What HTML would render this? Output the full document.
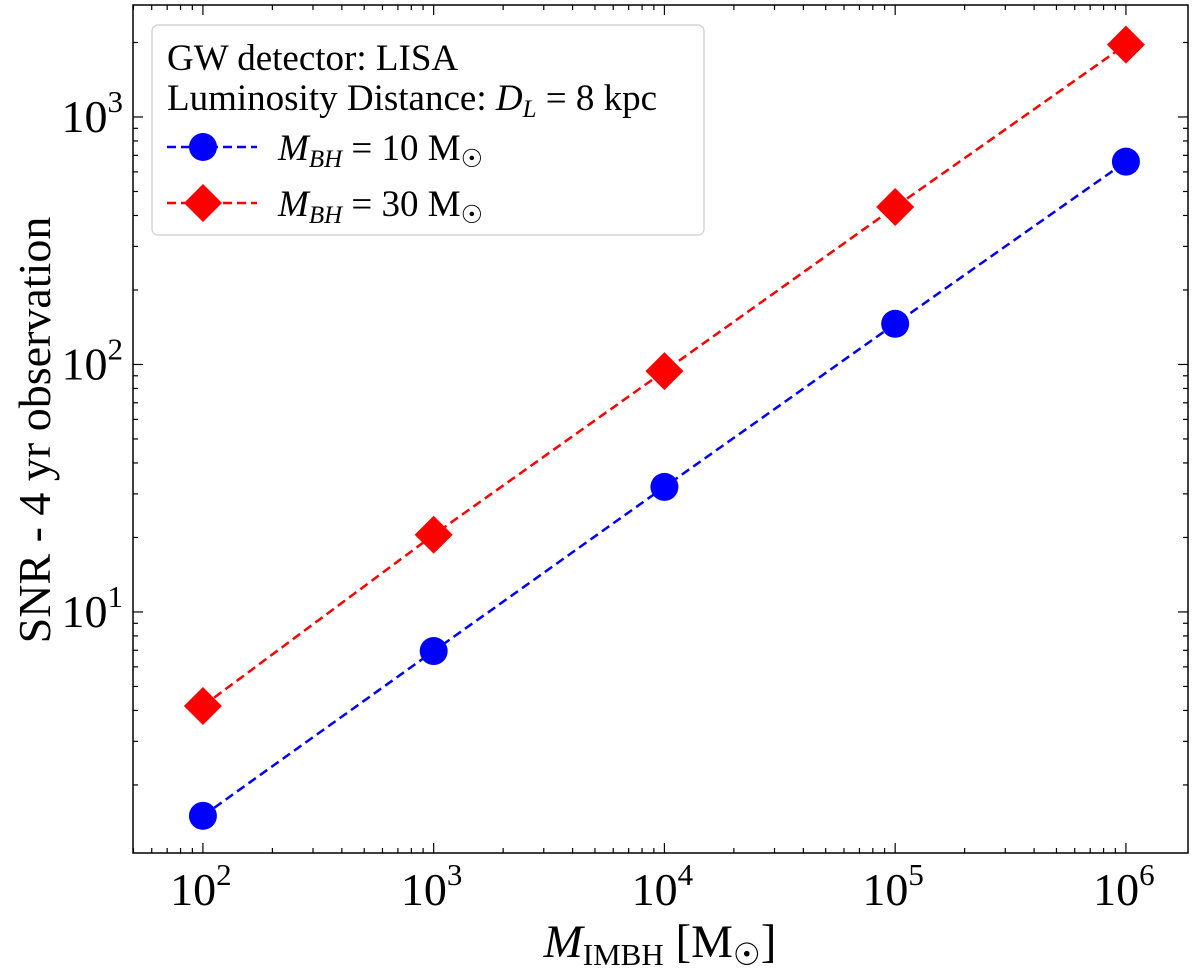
<!DOCTYPE html>
<html><head><meta charset="utf-8"><style>
html,body{margin:0;padding:0;background:#fff;}
svg{display:block;font-family:"Liberation Serif","DejaVu Serif",serif;}
</style></head><body>
<svg id="chart" width="1200" height="969"></svg>
<script>
const categories=[1e2,1e3,1e4,1e5,1e6];
const snrBH10=[1.5,6.95,32,146,660];
const snrBH30=[4.17,20.5,94,433,1960];
const xTickExps=[2,3,4,5,6];
const yTickExps=[1,2,3];
const L=133,R=1188,T=5,B=853;
const xMin=1.697,xMax=6.269,yMin=0.026,yMax=3.4525;
const NS="http://www.w3.org/2000/svg";
const svg=document.getElementById('chart');
function X(v){return L+(Math.log10(v)-xMin)/(xMax-xMin)*(R-L);}
function Y(v){return B-(Math.log10(v)-yMin)/(yMax-yMin)*(B-T);}
function el(tag,attrs,parent){const e=document.createElementNS(NS,tag);for(const k in attrs)e.setAttribute(k,attrs[k]);(parent||svg).appendChild(e);return e;}
const frame=el('rect',{x:L,y:T,width:R-L,height:B-T,fill:'none',stroke:'#000','stroke-width':1.5});


for(let e=1;e<=6;e++){for(let m=1;m<10;m++){const v=m*Math.pow(10,e);const x=X(v);if(x<L||x>R)continue;const len=m===1?10:5;
el('line',{x1:x,y1:B,x2:x,y2:B-len,stroke:'#000','stroke-width':1.2});el('line',{x1:x,y1:T,x2:x,y2:T+len,stroke:'#000','stroke-width':1.2});}}
for(let e=0;e<=4;e++){for(let m=1;m<10;m++){const v=m*Math.pow(10,e);const y=Y(v);if(y<T||y>B)continue;const len=m===1?10:5;
el('line',{x1:L,y1:y,x2:L+len,y2:y,stroke:'#000','stroke-width':1.2});el('line',{x1:R,y1:y,x2:R-len,y2:y,stroke:'#000','stroke-width':1.2});}}
xTickExps.forEach(e=>{const t=el('text',{x:X(Math.pow(10,e))-2,y:905,'text-anchor':'middle','font-size':46});


t.innerHTML='10<tspan font-size="31" dy="-20">'+e+'</tspan>';});
yTickExps.forEach(e=>{const t=el('text',{x:123,y:Y(Math.pow(10,e))+15,'text-anchor':'end','font-size':46});


t.innerHTML='10<tspan font-size="31" dy="-20">'+e+'</tspan>';});
const xt=el('text',{x:660,y:957,'text-anchor':'middle','font-size':47});


xt.innerHTML='<tspan font-style="italic">M</tspan><tspan font-size="31" dy="8">IMBH</tspan><tspan dy="-8"> [M</tspan><tspan font-size="31" dy="8">☉</tspan><tspan dy="-8">]</tspan>';
const yt=el('text',{x:0,y:0,'text-anchor':'middle','font-size':46,transform:'translate(50,430) rotate(-90)'});


yt.textContent='SNR - 4 yr observation';
function series(vals,color,shape,name){
 const pts=categories.map((c,i)=>X(c)+','+Y(vals[i])).join(' ');
 const pl=el('polyline',{points:pts,fill:'none',stroke:color,'stroke-width':2.5,'stroke-dasharray':'9,5'});
 
 
 categories.forEach((c,i)=>{const x=X(c),y=Y(vals[i]);let m;
  if(shape==='circle')m=el('circle',{cx:x,cy:y,r:14,fill:color});
  else m=el('polygon',{points:`${x},${y-19} ${x+19},${y} ${x},${y+19} ${x-19},${y}`,fill:color});
  
  });
}
series(snrBH10,'#0000ff','circle','mbh10');
series(snrBH30,'#ff0000','diamond','mbh30');
const lg=el('g',{});


el('rect',{x:152,y:25,width:552,height:210,rx:6,fill:'#fff',stroke:'#ccc','stroke-width':1.2},lg);
const l1=el('text',{x:167,y:70,'font-size':37},lg);l1.textContent='GW detector: LISA';
const l2=el('text',{x:167,y:110,'font-size':37},lg);l2.innerHTML='Luminosity Distance: <tspan font-style="italic">D</tspan><tspan font-size="25" dy="7" font-style="italic">L</tspan><tspan dy="-7"> = 8 kpc</tspan>';
el('line',{x1:167,y1:147,x2:257,y2:147,stroke:'#0000ff','stroke-width':2.5,'stroke-dasharray':'9,5'},lg);
el('circle',{cx:203,cy:147,r:14,fill:'#0000ff'},lg);
el('line',{x1:167,y1:203,x2:257,y2:203,stroke:'#ff0000','stroke-width':2.5,'stroke-dasharray':'9,5'},lg);
el('polygon',{points:'203,184 222,203 203,222 184,203',fill:'#ff0000'},lg);
const e1=el('text',{x:278,y:160,'font-size':37},lg);


e1.innerHTML='<tspan font-style="italic">M</tspan><tspan font-size="25" dy="7" font-style="italic">BH</tspan><tspan dy="-7"> = 10 M</tspan><tspan font-size="25" dy="7">☉</tspan>';
const e2=el('text',{x:278,y:216,'font-size':37},lg);


e2.innerHTML='<tspan font-style="italic">M</tspan><tspan font-size="25" dy="7" font-style="italic">BH</tspan><tspan dy="-7"> = 30 M</tspan><tspan font-size="25" dy="7">☉</tspan>';
</script>
</body></html>
